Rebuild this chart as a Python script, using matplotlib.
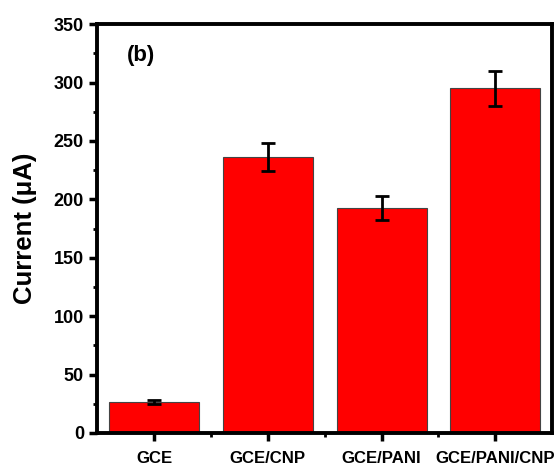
import numpy as np
import matplotlib.pyplot as plt
from matplotlib.ticker import MultipleLocator, FixedLocator

electrodes = ['GCE', 'GCE/CNP', 'GCE/PANI', 'GCE/PANI/CNP']
current = [26.5, 236, 192.5, 295]
current_err = [1.5, 12, 10, 15]

plt.rcParams['font.family'] = ['Liberation Sans', 'DejaVu Sans']
plt.rcParams['font.weight'] = 'bold'

fig = plt.figure(figsize=(5.55, 4.65), dpi=100)
ax = fig.add_axes([0.175, 0.069, 0.82, 0.879])

x = np.arange(len(electrodes))
ax.bar(x, current, width=0.79, color='#ff0000', edgecolor='#444444', linewidth=0.8,
       yerr=current_err, capsize=5,
       error_kw=dict(ecolor='black', elinewidth=2, capthick=2))

ax.set_xlim(-0.5, 3.5)
ax.set_ylim(0, 350)
ax.set_xticks(x)
ax.set_xticklabels(electrodes, fontsize=12.1, fontweight='bold')
ax.xaxis.set_minor_locator(FixedLocator(x[:-1] + 0.5))
ax.yaxis.set_major_locator(MultipleLocator(50))
ax.yaxis.set_minor_locator(MultipleLocator(25))
ax.tick_params(axis='y', which='major', labelsize=13, width=2.5, length=6, direction='out')
ax.tick_params(axis='x', which='major', width=2.5, length=6, pad=7, direction='out')
ax.tick_params(which='minor', width=2, length=3, direction='out')
for lbl in ax.get_yticklabels():
    lbl.set_fontweight('bold')

for side in ['left', 'right', 'top', 'bottom']:
    ax.spines[side].set_linewidth(2.8)

ax.set_ylabel('Current (\u03bcA)', fontsize=18.5, fontweight='bold', labelpad=12)
ax.text(-0.11, 323, '(b)', fontsize=16, fontweight='bold', ha='center', va='center')

fig.savefig('out.png', dpi=100)
